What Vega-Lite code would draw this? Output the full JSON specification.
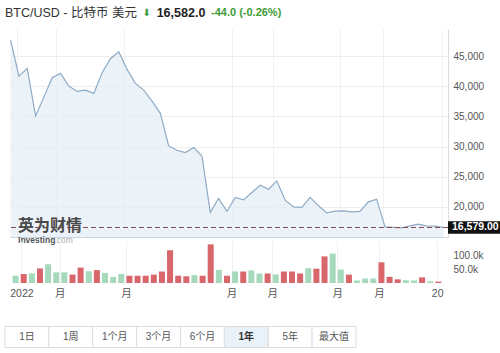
{
  "$schema": "https://vega.github.io/schema/vega-lite/v6.json",
  "padding": {"left": 4, "top": 0, "right": 0, "bottom": 0},
  "background": "white",
  "spacing": 4,
  "bounds": "flush",
  "config": {
    "view": {"stroke": null},
    "font": "Liberation Sans, Noto Sans CJK SC",
    "axis": {"labelFont": "Liberation Sans, Noto Sans CJK SC"}
  },
  "datasets": {
    "btc": [
      {"d":"2021-12-27","p":47650,"v":26000,"s":"u"},
      {"d":"2022-01-03","p":41690,"v":32000,"s":"d"},
      {"d":"2022-01-10","p":42960,"v":34000,"s":"u"},
      {"d":"2022-01-17","p":35070,"v":52000,"s":"d"},
      {"d":"2022-01-24","p":38200,"v":67000,"s":"u"},
      {"d":"2022-01-31","p":41420,"v":38000,"s":"u"},
      {"d":"2022-02-07","p":42140,"v":38000,"s":"u"},
      {"d":"2022-02-14","p":40030,"v":30000,"s":"d"},
      {"d":"2022-02-21","p":39150,"v":55000,"s":"d"},
      {"d":"2022-02-28","p":39370,"v":42000,"s":"u"},
      {"d":"2022-03-07","p":38820,"v":46000,"s":"d"},
      {"d":"2022-03-14","p":42250,"v":36000,"s":"u"},
      {"d":"2022-03-21","p":44570,"v":22000,"s":"u"},
      {"d":"2022-03-28","p":45730,"v":32000,"s":"u"},
      {"d":"2022-04-04","p":42800,"v":26000,"s":"d"},
      {"d":"2022-04-11","p":40480,"v":26000,"s":"d"},
      {"d":"2022-04-18","p":39370,"v":26000,"s":"d"},
      {"d":"2022-04-25","p":37550,"v":30000,"s":"d"},
      {"d":"2022-05-02","p":35510,"v":41000,"s":"d"},
      {"d":"2022-05-09","p":30100,"v":117000,"s":"d"},
      {"d":"2022-05-16","p":29390,"v":26000,"s":"d"},
      {"d":"2022-05-23","p":29010,"v":24000,"s":"d"},
      {"d":"2022-05-30","p":29830,"v":28000,"s":"u"},
      {"d":"2022-06-06","p":28440,"v":26000,"s":"d"},
      {"d":"2022-06-13","p":19070,"v":138000,"s":"d"},
      {"d":"2022-06-20","p":21390,"v":47000,"s":"u"},
      {"d":"2022-06-27","p":19240,"v":26000,"s":"d"},
      {"d":"2022-07-04","p":21560,"v":41000,"s":"u"},
      {"d":"2022-07-11","p":21160,"v":41000,"s":"d"},
      {"d":"2022-07-18","p":22380,"v":45000,"s":"u"},
      {"d":"2022-07-25","p":23590,"v":34000,"s":"u"},
      {"d":"2022-08-01","p":22930,"v":34000,"s":"d"},
      {"d":"2022-08-08","p":24300,"v":31000,"s":"u"},
      {"d":"2022-08-15","p":21110,"v":41000,"s":"d"},
      {"d":"2022-08-22","p":20000,"v":41000,"s":"d"},
      {"d":"2022-08-29","p":19900,"v":34000,"s":"d"},
      {"d":"2022-09-05","p":21560,"v":53000,"s":"u"},
      {"d":"2022-09-12","p":20170,"v":51000,"s":"d"},
      {"d":"2022-09-19","p":19000,"v":95000,"s":"d"},
      {"d":"2022-09-26","p":19290,"v":105000,"s":"u"},
      {"d":"2022-10-03","p":19340,"v":48000,"s":"u"},
      {"d":"2022-10-10","p":19170,"v":30000,"s":"d"},
      {"d":"2022-10-17","p":19240,"v":9000,"s":"u"},
      {"d":"2022-10-24","p":20830,"v":16000,"s":"u"},
      {"d":"2022-10-31","p":21280,"v":16000,"s":"u"},
      {"d":"2022-11-07","p":16690,"v":74000,"s":"d"},
      {"d":"2022-11-14","p":16590,"v":22000,"s":"d"},
      {"d":"2022-11-21","p":16520,"v":13000,"s":"d"},
      {"d":"2022-11-28","p":16850,"v":10000,"s":"u"},
      {"d":"2022-12-05","p":17140,"v":9000,"s":"u"},
      {"d":"2022-12-12","p":16850,"v":20000,"s":"d"},
      {"d":"2022-12-19","p":16800,"v":6000,"s":"u"},
      {"d":"2022-12-26","p":16600,"v":5000,"s":"d"}
    ],
    "hdr": [
      {"k":"a","t":"BTC/USD - 比特币 美元"},
      {"k":"b","t":"⬇"},
      {"k":"c","t":"16,582.0"},
      {"k":"d","t":"-44.0 (-0.26%)"}
    ],
    "btn": [
      {"b":"1日"},{"b":"1周"},{"b":"1个月"},{"b":"3个月"},{"b":"6个月"},{"b":"1年"},{"b":"5年"},{"b":"最大值"}
    ]
  },
  "vconcat": [
    {
      "width": 438,
      "height": 25,
      "data": {"name": "hdr"},
      "resolve": {"scale": {"x": "independent"}},
      "layer": [
        {
          "transform": [{"filter": "datum.k == 'a'"}],
          "mark": {"type": "text", "align": "left", "baseline": "middle", "fontSize": 12.5, "color": "#333333"},
          "encoding": {
            "x": {"field": "k", "type": "nominal", "scale": {"type": "point", "domain": ["a"], "range": [-5, -5], "padding": 0}, "axis": null},
            "text": {"field": "t"}
          }
        },
        {
          "transform": [{"filter": "datum.k == 'b'"}],
          "mark": {"type": "text", "align": "right", "baseline": "middle", "fontSize": 10, "color": "#3c9a3c", "font": "DejaVu Sans"},
          "encoding": {
            "x": {"field": "k", "type": "nominal", "scale": {"type": "point", "domain": ["b", "c", "d"], "range": [141, 201], "padding": 0}, "axis": null},
            "text": {"field": "t"}
          }
        },
        {
          "transform": [{"filter": "datum.k == 'c'"}],
          "mark": {"type": "text", "align": "center", "baseline": "middle", "fontSize": 12.5, "fontWeight": "bold", "color": "#222222"},
          "encoding": {
            "x": {"field": "k", "type": "nominal", "scale": {"type": "point", "domain": ["b", "c", "d"], "range": [141, 201], "padding": 0}, "axis": null},
            "text": {"field": "t"}
          }
        },
        {
          "transform": [{"filter": "datum.k == 'd'"}],
          "mark": {"type": "text", "align": "left", "baseline": "middle", "fontSize": 11, "fontWeight": "bold", "color": "#3f9b35"},
          "encoding": {
            "x": {"field": "k", "type": "nominal", "scale": {"type": "point", "domain": ["b", "c", "d"], "range": [141, 201], "padding": 0}, "axis": null},
            "text": {"field": "t"}
          }
        }
      ]
    },
    {
      "width": 438,
      "height": 208,
      "layer": [
        {
          "data": {"name": "btc"},
          "mark": {"type": "area", "color": "#e3ecf5", "line": {"color": "#8eabc6", "strokeWidth": 1.2}},
          "encoding": {
            "x": {
              "field": "d", "type": "temporal",
              "scale": {"domain": [{"year": 2021, "month": 12, "date": 26, "hours": 12, "utc": true}, {"year": 2022, "month": 12, "date": 30, "utc": true}]},
              "axis": {
                "title": null, "labels": false, "ticks": false,
                "domain": true, "domainColor": "#c9d5e2",
                "grid": true, "gridColor": "#f1f1f1",
                "values": [
                  {"year": 2022, "month": 1, "date": 1, "utc": true},
                  {"year": 2022, "month": 2, "date": 3, "utc": true},
                  {"year": 2022, "month": 4, "date": 1, "utc": true},
                  {"year": 2022, "month": 7, "date": 1, "utc": true},
                  {"year": 2022, "month": 8, "date": 5, "utc": true},
                  {"year": 2022, "month": 9, "date": 30, "utc": true},
                  {"year": 2022, "month": 11, "date": 5, "utc": true},
                  {"year": 2022, "month": 12, "date": 25, "utc": true}
                ]
              }
            },
            "y": {
              "field": "p", "type": "quantitative",
              "scale": {"domain": [15000, 49500], "zero": false, "nice": false},
              "axis": {
                "orient": "right", "title": null,
                "values": [20000, 25000, 30000, 35000, 40000, 45000],
                "labelExpr": "format(datum.value, ',')",
                "ticks": false,
                "domain": true, "domainColor": "#dddddd",
                "grid": true, "gridColor": "#eeeeee",
                "labelColor": "#555555", "labelFontSize": 10, "labelPadding": 5
              }
            },
            "y2": {"datum": 15000}
          }
        },
        {
          "data": {"values": [{"p": 16579}]},
          "mark": {"type": "rule", "color": "#8a4a52", "strokeWidth": 1, "strokeDash": [5, 3]},
          "encoding": {"y": {"field": "p", "type": "quantitative"}}
        },
        {
          "data": {"values": [{"t": "英为财情", "p": 16900}]},
          "mark": {"type": "text", "align": "left", "baseline": "middle", "fontSize": 16, "fontWeight": "bold", "color": "#4a4a4a", "font": "Noto Sans CJK SC"},
          "encoding": {
            "x": {"datum": {"year": 2022, "month": 1, "date": 2, "hours": 6, "utc": true}, "type": "temporal"},
            "y": {"field": "p", "type": "quantitative"},
            "text": {"field": "t"}
          }
        },
        {
          "data": {"values": [{"t": "Investing", "p": 14450}]},
          "mark": {"type": "text", "align": "left", "baseline": "middle", "fontSize": 8.5, "fontWeight": "bold", "color": "#555555"},
          "encoding": {
            "x": {"datum": {"year": 2022, "month": 1, "date": 2, "hours": 6, "utc": true}, "type": "temporal"},
            "y": {"field": "p", "type": "quantitative"},
            "text": {"field": "t"}
          }
        },
        {
          "data": {"values": [{"t": ".com", "p": 14450}]},
          "mark": {"type": "text", "align": "left", "baseline": "middle", "fontSize": 8.5, "color": "#aaaaaa"},
          "encoding": {
            "x": {"datum": {"year": 2022, "month": 2, "date": 1, "hours": 22, "utc": true}, "type": "temporal"},
            "y": {"field": "p", "type": "quantitative"},
            "text": {"field": "t"}
          }
        },
        {
          "data": {"values": [{"p": 16579}]},
          "mark": {"type": "rule", "color": "#111111", "strokeWidth": 12.5, "strokeCap": "butt"},
          "encoding": {
            "x": {"datum": {"year": 2022, "month": 12, "date": 30, "utc": true}, "type": "temporal"},
            "x2": {"datum": {"year": 2023, "month": 3, "date": 1, "utc": true}},
            "y": {"field": "p", "type": "quantitative"}
          }
        },
        {
          "data": {"values": [{"p": 16579, "t": "16,579.00"}]},
          "mark": {"type": "text", "align": "left", "baseline": "middle", "dx": 4, "fontSize": 10.5, "fontWeight": "bold", "color": "#ffffff"},
          "encoding": {
            "x": {"datum": {"year": 2022, "month": 12, "date": 30, "utc": true}, "type": "temporal"},
            "y": {"field": "p", "type": "quantitative"},
            "text": {"field": "t"}
          }
        }
      ]
    },
    {
      "width": 438,
      "height": 42,
      "data": {"name": "btc"},
      "mark": {"type": "bar", "width": 6},
      "encoding": {
        "x": {
          "field": "d", "type": "temporal",
          "scale": {"domain": [{"year": 2021, "month": 12, "date": 26, "hours": 12, "utc": true}, {"year": 2022, "month": 12, "date": 30, "utc": true}]},
          "axis": {
            "title": null, "ticks": false, "domain": false,
            "grid": true, "gridColor": "#f1f1f1",
            "labelColor": "#555555", "labelFontSize": 10.5, "labelPadding": 5,
            "labelAlign": "center",
            "labelFlush": false, "labelOverlap": false, "labelBound": false,
            "labelExpr": "utcFormat(datum.value, '%m-%d') == '01-01' ? '2022' : (utcFormat(datum.value, '%m-%d') == '12-25' ? '20' : '月')",
            "values": [
              {"year": 2022, "month": 1, "date": 1, "utc": true},
              {"year": 2022, "month": 2, "date": 3, "utc": true},
              {"year": 2022, "month": 4, "date": 1, "utc": true},
              {"year": 2022, "month": 7, "date": 1, "utc": true},
              {"year": 2022, "month": 8, "date": 5, "utc": true},
              {"year": 2022, "month": 9, "date": 30, "utc": true},
              {"year": 2022, "month": 11, "date": 5, "utc": true},
              {"year": 2022, "month": 12, "date": 25, "utc": true}
            ]
          }
        },
        "y": {
          "field": "v", "type": "quantitative",
          "scale": {"domain": [0, 150000], "nice": false},
          "axis": {
            "orient": "right", "title": null,
            "values": [50000, 100000],
            "labelExpr": "format(datum.value / 1000, '.1f') + 'k'",
            "ticks": false, "domain": false, "grid": false,
            "labelColor": "#555555", "labelFontSize": 10, "labelPadding": 5
          }
        },
        "color": {"field": "s", "type": "nominal", "scale": {"domain": ["u", "d"], "range": ["#a6d8bc", "#d8666a"]}, "legend": null}
      }
    },
    {
      "width": 346,
      "height": 61,
      "data": {"name": "btn"},
      "layer": [
        {
          "mark": {"type": "rect", "stroke": "#dddddd", "strokeWidth": 1},
          "encoding": {
            "x": {"field": "b", "type": "nominal", "scale": {"domain": ["1日","1周","1个月","3个月","6个月","1年","5年","最大值"], "range": [-5, 346], "paddingInner": 0, "paddingOuter": 0}, "axis": null},
            "y": {"datum": "r", "type": "nominal", "scale": {"domain": ["r"], "range": [39.5, 60.5], "paddingInner": 0, "paddingOuter": 0}, "axis": null},
            "fill": {"condition": {"test": "datum.b == '1年'", "value": "#e9f1f9"}, "value": "#ffffff"}
          }
        },
        {
          "transform": [{"filter": "datum.b != '1年'"}],
          "mark": {"type": "text", "fontSize": 10, "color": "#555555", "baseline": "middle"},
          "encoding": {
            "x": {"field": "b", "type": "nominal", "scale": {"domain": ["1日","1周","1个月","3个月","6个月","1年","5年","最大值"], "range": [-5, 346], "paddingInner": 0, "paddingOuter": 0}, "axis": null},
            "y": {"datum": "r", "type": "nominal", "scale": {"domain": ["r"], "range": [39.5, 60.5], "paddingInner": 0, "paddingOuter": 0}, "axis": null},
            "text": {"field": "b"}
          }
        },
        {
          "transform": [{"filter": "datum.b == '1年'"}],
          "mark": {"type": "text", "fontSize": 10, "fontWeight": "bold", "color": "#333333", "baseline": "middle"},
          "encoding": {
            "x": {"field": "b", "type": "nominal", "scale": {"domain": ["1日","1周","1个月","3个月","6个月","1年","5年","最大值"], "range": [-5, 346], "paddingInner": 0, "paddingOuter": 0}, "axis": null},
            "y": {"datum": "r", "type": "nominal", "scale": {"domain": ["r"], "range": [39.5, 60.5], "paddingInner": 0, "paddingOuter": 0}, "axis": null},
            "text": {"field": "b"}
          }
        }
      ]
    }
  ]
}
